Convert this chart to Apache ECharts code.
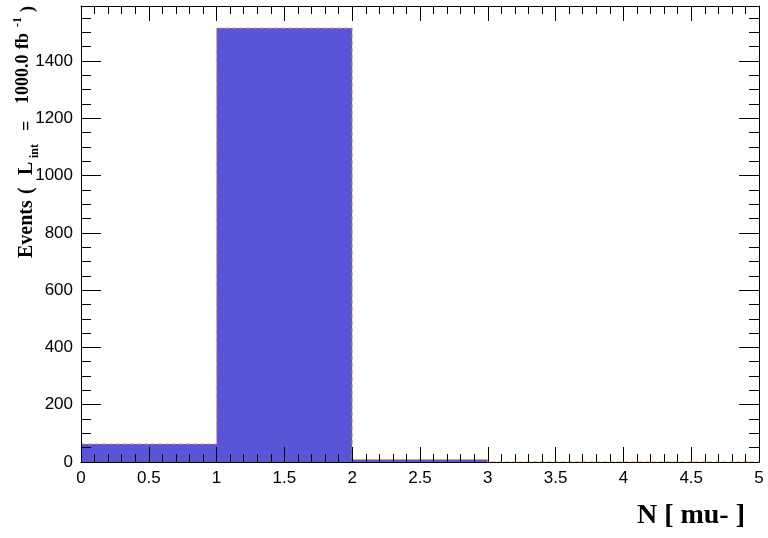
<!DOCTYPE html>
<html>
<head>
<meta charset="utf-8">
<script src="https://cdn.jsdelivr.net/npm/echarts@6/dist/echarts.min.js"></script>
<style>
html,body{margin:0;padding:0;background:#fff;}
#c{width:768px;height:538px;}
</style>
</head>
<body>
<div id="c"></div>
<script>
// Histogram data: bin left edges and contents
var binEdges = [0, 1, 2, 3, 4, 5];
var binCounts = [63, 1515, 9, 0, 0];
var xTitle = 'N [ mu- ]';
var yMax = 1592;

var stepData = [];
for (var i = 0; i < binCounts.length; i++) stepData.push([binEdges[i], binCounts[i]]);
stepData.push([binEdges[binEdges.length - 1], 0]);

var labelFont = {fontFamily: '"Liberation Sans", Arial, sans-serif', fontSize: 17, color: '#000'};

function xAx(pos, showLabel) {
  return {
    type: 'value', position: pos, min: 0, max: 5, interval: 0.5, z: 5,
    axisLine: {show: true, onZero: false, lineStyle: {color: '#000', width: 1}},
    axisTick: {show: true, inside: true, length: 15, lineStyle: {color: '#000'}},
    minorTick: {show: true, splitNumber: 5, length: 8, lineStyle: {color: '#000'}},
    axisLabel: Object.assign({show: showLabel, inside: false, margin: 8, formatter: function (v) { return String(v); }}, labelFont),
    splitLine: {show: false}, minorSplitLine: {show: false}
  };
}
function yAx(pos, interval, len, showLabel, showLine) {
  return {
    type: 'value', position: pos, min: 0, max: yMax, interval: interval, z: 5,
    axisLine: {show: showLine, onZero: false, lineStyle: {color: '#000', width: 1}},
    axisTick: {show: true, inside: true, length: len, lineStyle: {color: '#000'}},
    axisLabel: Object.assign({show: showLabel, margin: 8, showMaxLabel: false, formatter: function (v) { return String(v); }}, labelFont),
    splitLine: {show: false}
  };
}

var serif = '"Liberation Serif", "Times New Roman", serif';
function t(x, y, text, size) {
  return {type: 'text', x: x, y: y, style: {text: text, font: 'bold ' + size + 'px ' + serif, fill: '#000', align: 'left', verticalAlign: 'bottom'}};
}

var chart = echarts.init(document.getElementById('c'), null, {renderer: 'canvas'});
chart.setOption({
  animation: false,
  backgroundColor: '#fff',
  grid: {left: 81, right: 9, top: 6, bottom: 76, containLabel: false},
  xAxis: [xAx('bottom', true), xAx('top', false)],
  yAxis: [
    yAx('left', 200, 20, true, true),
    yAx('left', 50, 10, false, false),
    yAx('right', 200, 20, false, true),
    yAx('right', 50, 10, false, false)
  ],
  series: [{
    type: 'line', xAxisIndex: 0, yAxisIndex: 0,
    step: 'end', data: stepData, symbol: 'none',
    lineStyle: {color: '#ff9d1e', width: 1, type: [4, 3]},
    areaStyle: {color: '#5a55d6', opacity: 1},
    z: 1
  }],
  graphic: [
    {
      type: 'group', x: 37, y: 258, rotation: Math.PI / 2,
      children: [
        t(0, 0, 'Events', 20),
        t(64, 0, '(', 20),
        t(83, 0, 'L', 20),
        t(100, 4, 'int', 12),
        t(127, -1, '=', 18),
        t(154, -5, '1000.0', 18),
        t(209, -5, 'fb', 18),
        t(231, -13, '-1', 12),
        t(246, 0, ')', 18)
      ]
    },
    {
      type: 'text', x: 745, y: 530,
      style: {text: xTitle, font: 'bold 28px ' + serif, fill: '#000', align: 'right', verticalAlign: 'bottom'}
    }
  ]
});
</script>
</body>
</html>
